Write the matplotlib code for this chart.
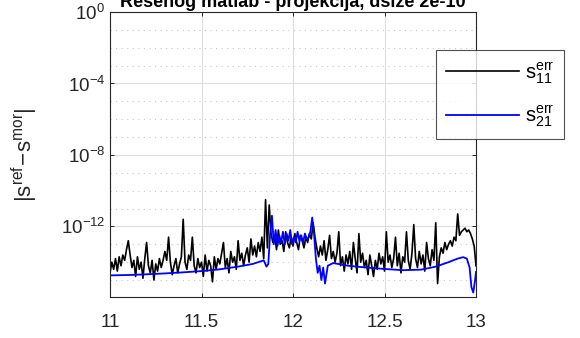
import matplotlib
matplotlib.use("Agg")
import matplotlib.pyplot as plt
import numpy as np
from matplotlib.ticker import FixedLocator, NullFormatter

plt.rcParams["font.family"] = ["Liberation Sans", "DejaVu Sans"]
plt.rcParams["mathtext.fontset"] = "custom"
plt.rcParams["mathtext.rm"] = "Liberation Sans"
plt.rcParams["mathtext.it"] = "Liberation Sans"

# frequency grid for s11 error (step 0.01)
freq_s11 = np.round(np.arange(11.0, 13.0001, 0.01), 3)

# log10 |s11 ref - s11 mor|
log_s11 = [
    -14.6, -14.0, -14.4, -13.8, -14.5, -13.7, -14.2, -13.6, -13.9, -13.3,
    -12.8, -13.6, -14.3, -13.9, -14.8, -13.7, -14.4, -14.0, -14.9, -13.8,
    -12.9, -14.2, -14.6, -13.9, -15.0, -14.1, -14.5, -13.8, -14.3, -13.9,
    -13.4, -13.9, -12.6, -14.0, -14.7, -14.2, -13.8, -14.6, -14.1, -13.7,
    -11.6, -14.0, -14.4, -13.6, -13.9, -12.6, -14.2, -14.6, -13.8, -14.3,
    -14.0, -14.8, -13.6, -14.5, -13.9, -14.2, -15.1, -13.7, -14.4, -13.8,
    -14.1, -13.5, -12.9, -14.3, -13.8, -14.6, -13.4, -14.0, -13.7, -14.4,
    -12.8, -13.9, -13.5, -14.2, -13.6, -13.2, -14.0, -12.7, -13.6, -13.1,
    -13.7, -12.9, -13.4, -12.6, -13.8, -10.5, -13.2, -10.8, -12.4, -12.9,
    -12.5, -13.3, -12.2, -13.0, -12.8, -13.4, -12.3, -12.9, -13.2, -12.6,
    -13.1, -12.4, -12.9, -13.3, -12.5, -12.8, -13.2, -12.6, -12.9, -12.4,
    -12.7, -11.8, -12.6, -13.2, -13.7, -13.1, -13.6, -12.8, -13.9, -13.3,
    -12.5, -13.8, -13.4, -14.0, -13.5, -12.3, -14.2, -13.7, -14.5, -13.6,
    -14.1, -13.4, -14.4, -12.9, -13.8, -14.6, -12.4, -14.0, -13.5, -14.3,
    -13.9, -14.7, -13.6, -14.2, -14.8, -13.9, -14.4, -13.5, -14.1, -13.7,
    -14.5, -12.3, -14.0, -13.6, -14.3, -13.8, -12.6, -14.2, -13.5, -14.6,
    -13.7, -14.0, -12.3, -13.9, -14.4, -13.5, -11.9, -13.8, -14.3, -13.4,
    -14.1, -13.6, -14.5, -12.9, -13.8, -14.2, -13.3, -13.9, -11.8, -15.2,
    -13.7, -13.2, -13.5, -12.9, -13.3, -13.0, -12.8, -13.1, -12.6, -12.8,
    -11.3, -12.5, -12.3, -12.2, -12.1, -12.3, -12.2, -12.4, -12.7, -13.1,
    -14.2,
]

# s21 error: frequency points and log10 magnitude
freq_s21 = [
    11.00, 11.10, 11.20, 11.30, 11.40, 11.50, 11.60, 11.70, 11.78, 11.84,
    11.855, 11.865, 11.875, 11.885, 11.895, 11.905, 11.915, 11.925, 11.935, 11.945,
    11.955, 11.965, 11.975, 11.985, 11.995, 12.005, 12.015, 12.025, 12.035, 12.045,
    12.055, 12.065, 12.075, 12.085, 12.095, 12.105, 12.115, 12.125, 12.135, 12.145,
    12.155, 12.165, 12.175, 12.19, 12.22, 12.30, 12.40, 12.50, 12.60, 12.70,
    12.78, 12.85, 12.90, 12.93, 12.95, 12.965, 12.975, 12.985, 12.995, 13.0,
]
log_s21 = [
    -14.74, -14.72, -14.68, -14.63, -14.57, -14.5, -14.4, -14.25, -14.1, -13.9,
    -14.25, -14.1, -12.4, -11.4, -13.0, -12.2, -13.1, -12.5, -12.9, -12.3,
    -13.0, -12.4, -12.8, -12.2, -13.0, -12.6, -12.9, -12.3, -12.8, -12.5,
    -12.9, -12.4, -12.7, -12.6, -12.3, -11.5, -12.4, -13.8, -14.6, -14.2,
    -15.0, -14.3, -15.2, -14.2, -14.05, -14.2, -14.3, -14.38, -14.45, -14.42,
    -14.25, -14.0, -13.8, -13.72, -13.8, -14.3, -15.4, -15.7, -15.0, -14.55,
]

x_ticks = [11, 11.5, 12, 12.5, 13]
x_tick_labels = ["11", "11.5", "12", "12.5", "13"]
y_major_exp = [-12, -8, -4, 0]

fig = plt.figure(figsize=(5.8, 3.38), dpi=100)
ax = fig.add_axes([110 / 580, 1 - 297 / 338, 366 / 580, 285 / 338])

ax.semilogy(freq_s11, 10.0 ** np.array(log_s11), color="black", lw=1.2,
            label=r"$\mathregular{s_{11}^{err}}$")
ax.semilogy(freq_s21, 10.0 ** np.array(log_s21), color=(0, 0, 1), lw=1.3,
            label=r"$\mathregular{s_{21}^{err}}$")

ax.set_xlim(11, 13)
ax.set_ylim(10 ** -15.95, 1)

ax.xaxis.set_major_locator(FixedLocator(x_ticks))
ax.set_xticklabels(x_tick_labels)
ax.yaxis.set_major_locator(FixedLocator([10.0 ** e for e in y_major_exp]))
ax.set_yticklabels([r"$\mathregular{10^{%d}}$" % e for e in y_major_exp])
ax.yaxis.set_minor_locator(FixedLocator([10.0 ** e for e in range(-15, 0)
                                         if e not in y_major_exp]))
ax.yaxis.set_minor_formatter(NullFormatter())

ax.grid(True, which="major", color="#dedede", lw=0.8, ls="-")
ax.grid(True, which="minor", axis="y", color="#c8c8c8", lw=0.8, ls=(0, (1, 4)))
ax.set_axisbelow(True)

ax.tick_params(which="both", direction="in", length=3, width=0.7,
               top=True, right=True, labelsize=13.5, colors="#262626")
ax.tick_params(axis="x", pad=12)
ax.tick_params(axis="y", which="minor", length=0)
for s in ax.spines.values():
    s.set_color("#262626")
    s.set_linewidth(0.8)

ax.set_ylabel(r"$\mathregular{|s^{ref}\!-\!s^{mor}|}$", fontsize=16, color="#262626")
ax.yaxis.set_label_coords(-0.19, 0.5)

# heading sits above the canvas edge, only its lower part shows
fig.text(293 / 580, 1 - 7 / 338, "Rešenog matlab - projekcija, dsize 2e-10",
         ha="center", va="baseline", fontsize=13, fontweight="bold")

leg = fig.legend(loc="upper left", bbox_to_anchor=(436 / 580, 1 - 50 / 338),
                 fontsize=14.5, handlelength=3.6, frameon=True, fancybox=False,
                 edgecolor="#262626", borderpad=0.5, labelspacing=0.9,
                 handletextpad=0.3, borderaxespad=0)
leg.get_frame().set_linewidth(0.8)

fig.savefig("out.png", dpi=100)
